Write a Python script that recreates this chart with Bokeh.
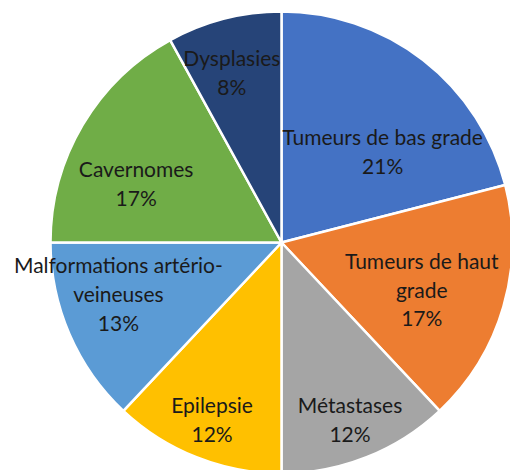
import math
from bokeh.plotting import figure
from bokeh.models import ColumnDataSource, Range1d
from bokeh.core.properties import value
from bokeh.embed import file_html
from bokeh.resources import INLINE

# ---- data ----
categories = ["Tumeurs de bas grade", "Tumeurs de haut grade", "Métastases",
              "Epilepsie", "Malformations artério-veineuses", "Cavernomes", "Dysplasies"]
label_texts = ["Tumeurs de bas grade\n21%", "Tumeurs de haut\ngrade\n17%", "Métastases\n12%",
               "Epilepsie\n12%", "Malformations artério-\nveineuses\n13%", "Cavernomes\n17%",
               "Dysplasies\n8%"]
percent = [21, 17, 12, 12, 13, 17, 8]
colors = ["#4472C4", "#ED7D31", "#A5A5A5", "#FFC000", "#5B9BD5", "#70AD47", "#264478"]

# label placement (clockwise degrees from top, fraction of radius)
label_angle = [47.9, 108.4, 158.8, 201.5, 252.6, 292.3, 343.8]
label_radius = [0.59, 0.64, 0.82, 0.82, 0.74, 0.68, 0.77]

W, H = 510, 470
R_PX = 231.0
CX, CY = 281.0, 242.0

total = float(sum(percent))
starts, ends = [], []
cum = 0.0
for v in percent:
    starts.append(math.pi / 2 - 2 * math.pi * cum / total)
    cum += v
    ends.append(math.pi / 2 - 2 * math.pi * cum / total)

src = ColumnDataSource(dict(cat=categories, start=starts, end=ends, color=colors))

lx = [r * math.sin(math.radians(a)) for a, r in zip(label_angle, label_radius)]
ly = [r * math.cos(math.radians(a)) for a, r in zip(label_angle, label_radius)]
lsrc = ColumnDataSource(dict(x=lx, y=ly, text=label_texts))

p = figure(width=W, height=H, output_backend="svg", toolbar_location=None,
           x_range=Range1d(-CX / R_PX, (W - CX) / R_PX),
           y_range=Range1d(-(H - CY) / R_PX, CY / R_PX),
           min_border=0)
p.axis.visible = False
p.grid.visible = False
p.outline_line_color = None
p.background_fill_color = "white"
p.border_fill_color = "white"

p.wedge(x=0, y=0, radius=1.0, start_angle="start", end_angle="end", direction="clock",
        fill_color="color", line_color="white", line_width=2.5, source=src)

p.text(x="x", y="y", text="text", source=lsrc, text_align="center", text_baseline="middle",
       text_font=value("Lato"), text_font_size="21px", text_color="#1a1a1a",
       text_line_height=1.15)

open("out.html", "w").write(file_html(p, INLINE))
